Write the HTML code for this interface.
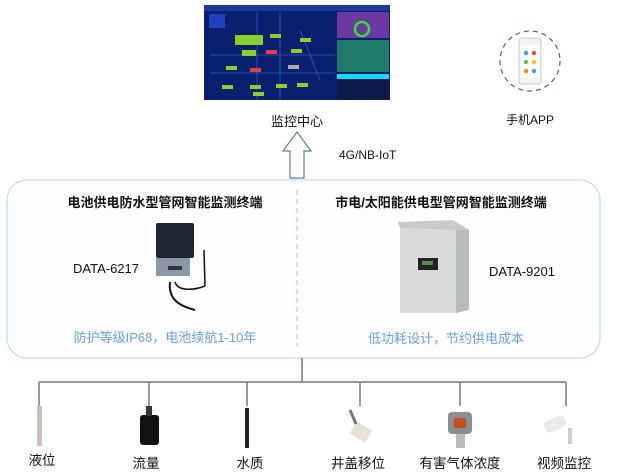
<!DOCTYPE html>
<html><head><meta charset="utf-8"><style>
html,body{margin:0;padding:0;background:#fff;}
svg{display:block;font-family:"Liberation Sans","Noto Sans CJK SC",sans-serif;}
</style></head><body>
<svg width="620" height="476" viewBox="0 0 620 476" xmlns="http://www.w3.org/2000/svg">
<!-- monitoring screen -->
<rect x="204" y="5" width="186" height="95" fill="#0a1f6e"/>
<rect x="204" y="5" width="186" height="6" fill="#1a3a9a"/>
<rect x="337" y="12" width="52" height="26" fill="#6a3aa0"/>
<circle cx="362" cy="29" r="7" fill="none" stroke="#2fe03a" stroke-width="2.5"/>
<rect x="337" y="40" width="52" height="32" fill="#1f7a6a"/>
<rect x="337" y="74" width="52" height="5" fill="#18d8ee"/>
<rect x="337" y="80" width="52" height="20" fill="#0d1a4a"/>
<g stroke="#2a5acc" stroke-width="1" opacity="0.8">
<line x1="210" y1="55" x2="335" y2="55"/><line x1="210" y1="73" x2="335" y2="73"/>
<line x1="257" y1="12" x2="257" y2="100"/><line x1="280" y1="12" x2="280" y2="100"/>
<line x1="300" y1="30" x2="320" y2="80"/>
</g>
<g fill="#8ad02a">
<rect x="235" y="35" width="28" height="10"/><rect x="242" y="50" width="14" height="6"/>
<rect x="270" y="34" width="11" height="4"/><rect x="300" y="38" width="11" height="4"/>
<rect x="291" y="49" width="11" height="4"/><rect x="226" y="66" width="11" height="4"/>
<rect x="222" y="85" width="11" height="4"/><rect x="250" y="85" width="11" height="4"/>
<rect x="276" y="84" width="11" height="4"/><rect x="253" y="92" width="11" height="4"/>
<rect x="297" y="83" width="11" height="4"/>
</g>
<rect x="266" y="50" width="11" height="4" fill="#e04040"/>
<rect x="250" y="68" width="11" height="4" fill="#e04040"/>
<rect x="288" y="65" width="11" height="4" fill="#aaaaaa"/>
<rect x="209" y="14" width="16" height="14" fill="#2040c0"/>
<text x="297" y="126" font-size="13" text-anchor="middle" fill="#111">监控中心</text>
<!-- phone -->
<circle cx="530" cy="61" r="30" fill="none" stroke="#4a6f9a" stroke-width="1.3" stroke-dasharray="5,4"/>
<rect x="519" y="38" width="22" height="46" rx="3" fill="#f4f4f4" stroke="#cccccc"/>
<rect x="521" y="45" width="18" height="32" fill="#fff"/>
<circle cx="526" cy="53" r="2.2" fill="#3aa0e8"/><circle cx="534" cy="53" r="2.2" fill="#e84a3a"/>
<circle cx="526" cy="62" r="2.2" fill="#6cc04a"/><circle cx="534" cy="62" r="2.2" fill="#f0c020"/>
<circle cx="526" cy="71" r="2.2" fill="#f09020"/><circle cx="534" cy="71" r="2.2" fill="#3aa0e8"/>
<text x="530" y="124" font-size="12" text-anchor="middle" fill="#111">手机APP</text>
<!-- arrow -->
<polygon points="297,132 311,151 304,151 304,178 290,178 290,151 283,151" fill="#fff" stroke="#5a7ea8" stroke-width="1.2"/>
<text x="339" y="159" font-size="12" fill="#111">4G/NB-IoT</text>
<!-- panel -->
<rect x="7" y="180" width="593" height="178" rx="20" fill="#fbfdff" stroke="#c5dcef" stroke-width="1.2"/>
<line x1="297" y1="190" x2="297" y2="346" stroke="#b0c8e0" stroke-dasharray="5,4"/>
<text x="165" y="207" font-size="13" font-weight="bold" text-anchor="middle" fill="#111">电池供电防水型管网智能监测终端</text>
<text x="106" y="273" font-size="13" text-anchor="middle" fill="#111">DATA-6217</text>
<rect x="156" y="223" width="38" height="35" rx="2" fill="#1c2530"/>
<rect x="156" y="258" width="34" height="18" fill="#8a98a8"/>
<rect x="168" y="266" width="14" height="4" fill="#333"/>
<path d="M170 282 C168 300,180 306,195 310" stroke="#111" stroke-width="2" fill="none"/>
<path d="M175 282 C178 292,195 290,205 286" stroke="#111" stroke-width="1.5" fill="none"/>
<line x1="204" y1="250" x2="205" y2="286" stroke="#111" stroke-width="1.5"/>
<text x="165" y="342" font-size="13" text-anchor="middle" fill="#6fa0d8">防护等级IP68，电池续航1-10年</text>
<text x="441" y="207" font-size="13" font-weight="bold" text-anchor="middle" fill="#111">市电/太阳能供电型管网智能监测终端</text>
<rect x="400" y="224" width="56" height="89" fill="#d8dadc"/>
<polygon points="456,224 469,230 469,310 456,313" fill="#b8bcc0"/>
<polygon points="398,222 453,220 469,230 400,228" fill="#c8cacc"/>
<rect x="418" y="258" width="20" height="12" fill="#222"/>
<rect x="422" y="261" width="11" height="4" fill="#5a8a5a"/>
<text x="522" y="276" font-size="13" text-anchor="middle" fill="#111">DATA-9201</text>
<text x="446" y="343" font-size="13" text-anchor="middle" fill="#6fa0d8">低功耗设计，节约供电成本</text>
<!-- tree -->
<g stroke="#777" stroke-width="1.5" fill="none">
<line x1="302" y1="358" x2="302" y2="382"/>
<line x1="39" y1="382" x2="566" y2="382"/>
<line x1="39" y1="382" x2="39" y2="406"/>
<line x1="149" y1="382" x2="149" y2="406"/>
<line x1="247" y1="382" x2="247" y2="406"/>
<line x1="360" y1="382" x2="360" y2="406"/>
<line x1="460" y1="382" x2="460" y2="406"/>
<line x1="566" y1="382" x2="566" y2="406"/>
</g>
<!-- sensors -->
<rect x="37" y="406" width="5" height="40" fill="#c8c4bc"/>
<rect x="140" y="415" width="19" height="30" rx="3" fill="#111"/>
<rect x="146" y="406" width="6" height="10" fill="#333"/>
<rect x="245" y="408" width="4" height="40" fill="#222"/>
<rect x="352" y="425" width="18" height="14" fill="#e8e2d4" transform="rotate(30 361 432)"/>
<line x1="350" y1="410" x2="356" y2="424" stroke="#777" stroke-width="3"/>
<rect x="448" y="412" width="24" height="22" rx="4" fill="#8a8e90"/>
<rect x="454" y="418" width="12" height="10" fill="#c05020"/>
<rect x="456" y="434" width="9" height="14" fill="#bbb"/>
<rect x="544" y="418" width="22" height="12" rx="4" fill="#e8eaec" transform="rotate(-25 555 424)"/>
<rect x="568" y="428" width="4" height="16" fill="#ccc"/>
<g font-size="13.5" fill="#111" text-anchor="middle">
<text x="42" y="465">液位</text>
<text x="146" y="468">流量</text>
<text x="250" y="468">水质</text>
<text x="358" y="468">井盖移位</text>
<text x="460" y="468">有害气体浓度</text>
<text x="564" y="468">视频监控</text>
</g>
</svg>
</body></html>
